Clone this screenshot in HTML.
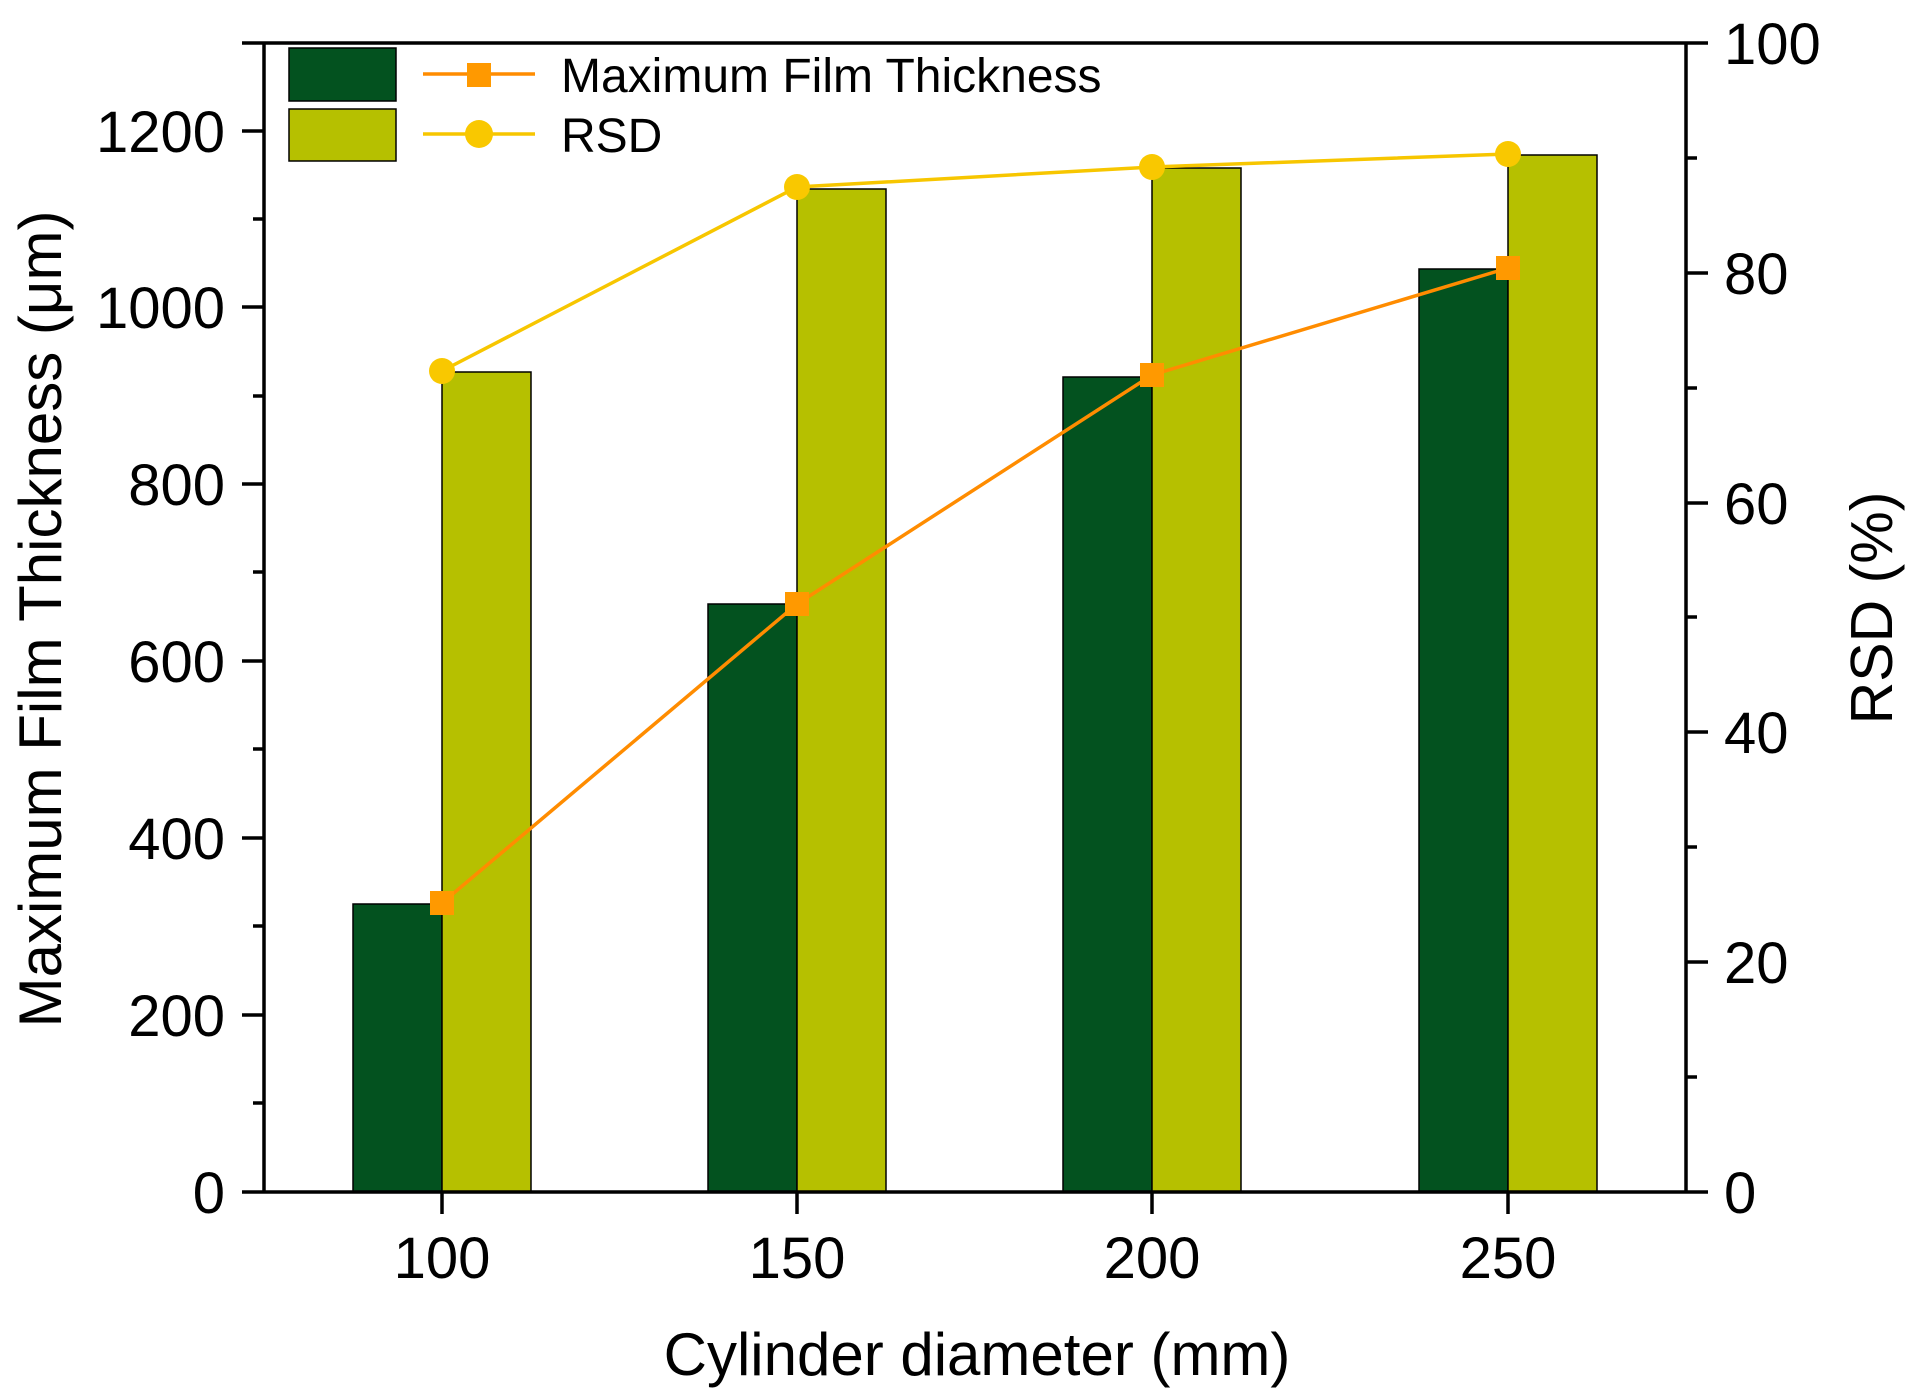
<!DOCTYPE html>
<html><head><meta charset="utf-8"><style>body{margin:0;background:#fff}svg{display:block}</style></head>
<body>
<svg width="1913" height="1392" xmlns="http://www.w3.org/2000/svg" font-family="Liberation Sans, Arial, sans-serif">
<rect width="1913" height="1392" fill="#fff"/>
<g stroke="#000" stroke-width="1.5">
<rect x="353" y="904" width="89" height="288" fill="#03521f"/>
<rect x="442" y="372" width="89" height="820" fill="#b6c000"/>
<rect x="708" y="604" width="89" height="588" fill="#03521f"/>
<rect x="797" y="189" width="89" height="1003" fill="#b6c000"/>
<rect x="1063" y="377" width="89" height="815" fill="#03521f"/>
<rect x="1152" y="168" width="89" height="1024" fill="#b6c000"/>
<rect x="1419" y="269" width="89" height="923" fill="#03521f"/>
<rect x="1508" y="155" width="89" height="1037" fill="#b6c000"/>
</g>
<polyline points="442,903 797,604 1152,375 1508,268" fill="none" stroke="#ff8c00" stroke-width="3.5"/>
<g fill="#ff9900"><rect x="430" y="891" width="24" height="24"/><rect x="785" y="592" width="24" height="24"/><rect x="1140" y="363" width="24" height="24"/><rect x="1496" y="256" width="24" height="24"/></g>
<polyline points="442,371 797,187 1152,167 1508,154" fill="none" stroke="#f7c600" stroke-width="3.5"/>
<g fill="#f9c800"><circle cx="442" cy="371" r="13"/><circle cx="797" cy="187" r="13"/><circle cx="1152" cy="167" r="13"/><circle cx="1508" cy="154" r="13"/></g>
<g stroke="#000" stroke-width="3.5" fill="none">
<line x1="264" y1="43" x2="264" y2="1192"/>
<line x1="1686" y1="43" x2="1686" y2="1192"/>
<line x1="242" y1="43" x2="1708" y2="43"/>
<line x1="242" y1="1192" x2="1708" y2="1192"/>
<line x1="442" y1="1192" x2="442" y2="1214"/><line x1="797" y1="1192" x2="797" y2="1214"/><line x1="1152" y1="1192" x2="1152" y2="1214"/><line x1="1508" y1="1192" x2="1508" y2="1214"/>
<line x1="242" y1="1015" x2="264" y2="1015"/><line x1="242" y1="838" x2="264" y2="838"/><line x1="242" y1="661" x2="264" y2="661"/><line x1="242" y1="484" x2="264" y2="484"/><line x1="242" y1="307" x2="264" y2="307"/><line x1="242" y1="131" x2="264" y2="131"/>
<line x1="253" y1="1103" x2="264" y2="1103"/><line x1="253" y1="926" x2="264" y2="926"/><line x1="253" y1="749" x2="264" y2="749"/><line x1="253" y1="572" x2="264" y2="572"/><line x1="253" y1="396" x2="264" y2="396"/><line x1="253" y1="219" x2="264" y2="219"/>
<line x1="1686" y1="962" x2="1708" y2="962"/><line x1="1686" y1="732" x2="1708" y2="732"/><line x1="1686" y1="503" x2="1708" y2="503"/><line x1="1686" y1="273" x2="1708" y2="273"/>
<line x1="1686" y1="1077" x2="1697" y2="1077"/><line x1="1686" y1="847" x2="1697" y2="847"/><line x1="1686" y1="617" x2="1697" y2="617"/><line x1="1686" y1="388" x2="1697" y2="388"/><line x1="1686" y1="158" x2="1697" y2="158"/>
</g>
<g font-size="58" fill="#000">
<g text-anchor="end">
<text x="225" y="1213">0</text><text x="225" y="1036">200</text><text x="225" y="859">400</text><text x="225" y="682">600</text><text x="225" y="505">800</text><text x="225" y="328">1000</text><text x="225" y="152">1200</text>
</g>
<g text-anchor="start">
<text x="1724" y="1213">0</text><text x="1724" y="983">20</text><text x="1724" y="753">40</text><text x="1724" y="524">60</text><text x="1724" y="294">80</text><text x="1724" y="64">100</text>
</g>
<g text-anchor="middle">
<text x="442" y="1278">100</text><text x="797" y="1278">150</text><text x="1152" y="1278">200</text><text x="1508" y="1278">250</text>
</g>
<text x="977" y="1375" text-anchor="middle" font-size="60">Cylinder diameter (mm)</text>
<text transform="translate(61,619) rotate(-90)" text-anchor="middle" font-size="60">Maximum Film Thickness (μm)</text>
<text transform="translate(1892,608) rotate(-90)" text-anchor="middle" font-size="59">RSD (%)</text>
</g>
<rect x="289" y="48" width="107" height="53" fill="#03521f" stroke="#000" stroke-width="1.5"/>
<rect x="289" y="109" width="107" height="52" fill="#b6c000" stroke="#000" stroke-width="1.5"/>
<line x1="423" y1="74" x2="535" y2="74" stroke="#ff8c00" stroke-width="3.5"/>
<rect x="467" y="63" width="24" height="24" fill="#ff9900"/>
<line x1="423" y1="134" x2="535" y2="134" stroke="#f7c600" stroke-width="3.5"/>
<circle cx="479" cy="134" r="14" fill="#f9c800"/>
<g font-size="48" fill="#000">
<text x="561" y="92">Maximum Film Thickness</text>
<text x="561" y="152">RSD</text>
</g>
</svg>
</body></html>
